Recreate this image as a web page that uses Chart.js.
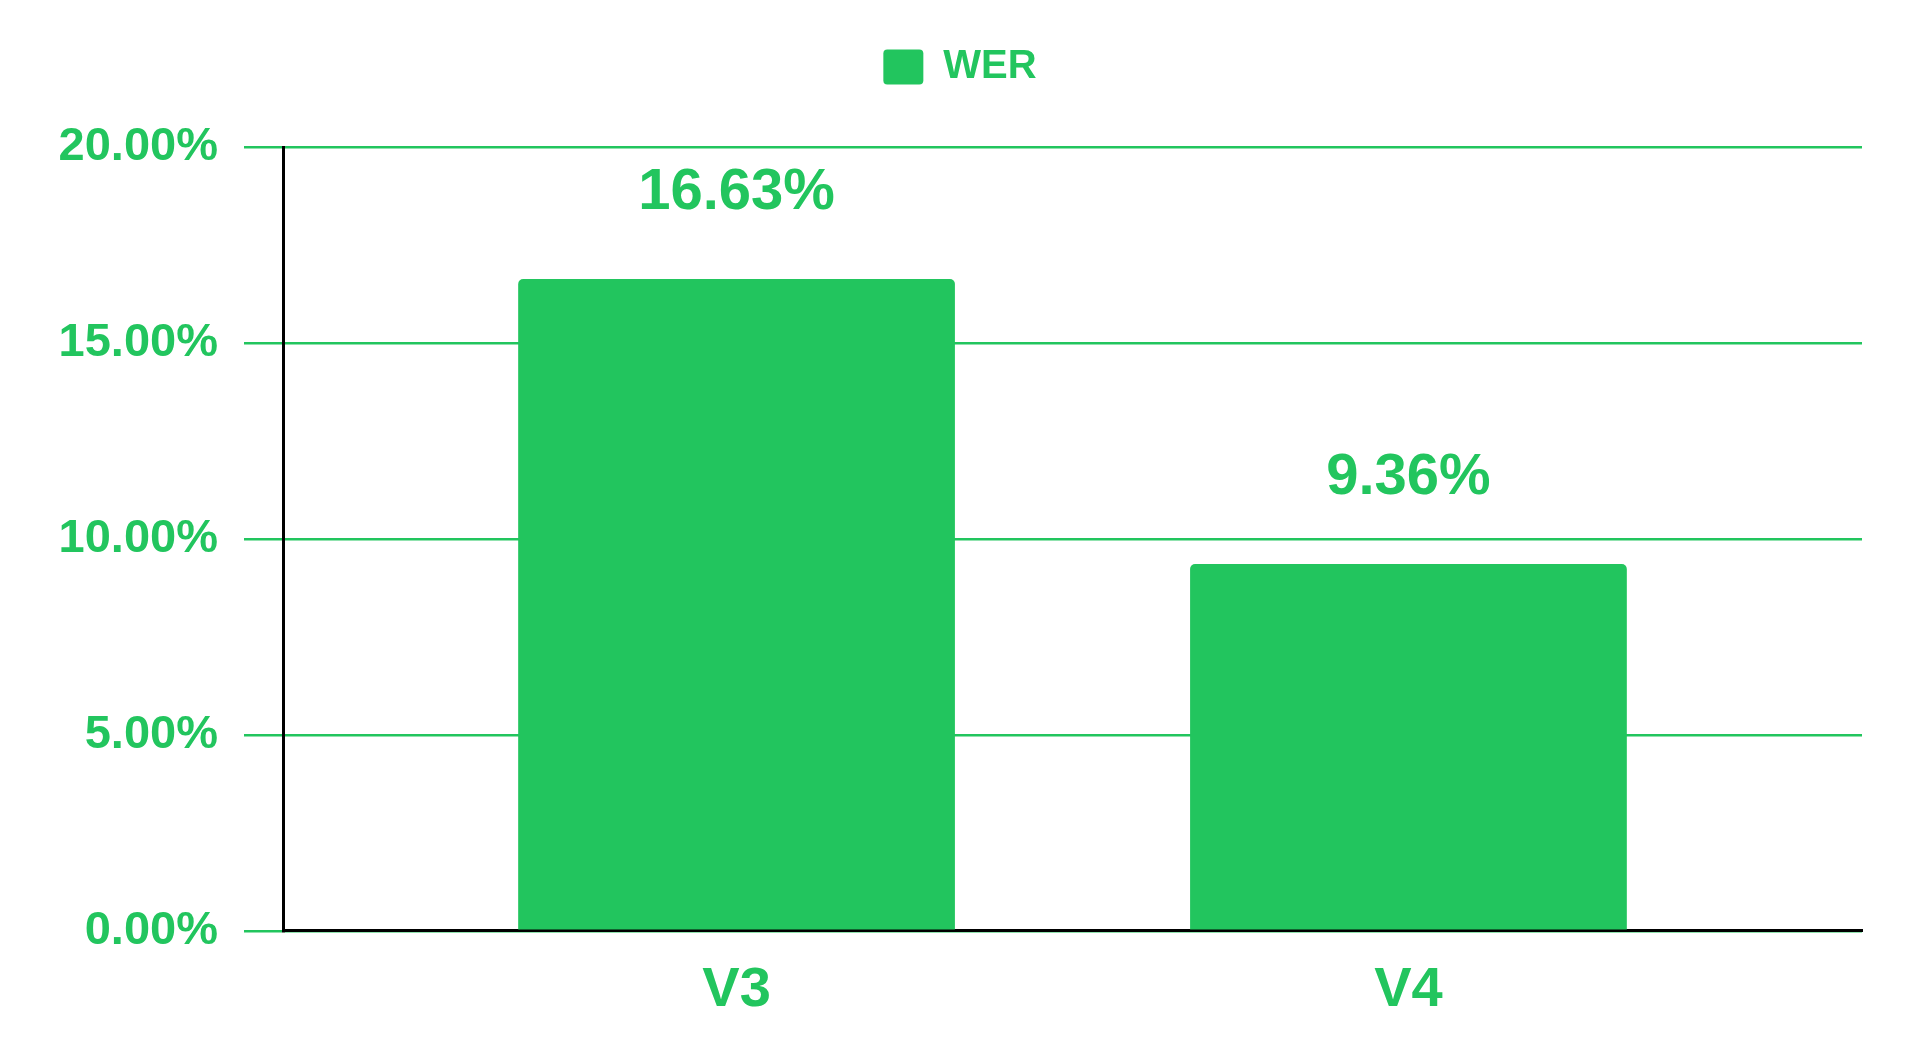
<!DOCTYPE html>
<html>
<head>
<meta charset="utf-8">
<script src="https://cdn.jsdelivr.net/npm/chart.js@4.4.1/dist/chart.umd.min.js"></script>
<style>
  html, body { margin: 0; padding: 0; background: #fff; }
  #wrap { width: 1920px; height: 1062px; }
</style>
</head>
<body>
<div id="wrap"><canvas id="myChart"></canvas></div>
<script>
const categories = ['V3', 'V4'];
const werValues = [16.63, 9.36];
const yTicks = [0, 5, 10, 15, 20];

const green = '#22c55e';
const font = '"Liberation Sans", Arial, sans-serif';

// value labels above the bars
const barValues = {
    id: 'barValues',
    afterDatasetsDraw(chart) {
        const ctx = chart.ctx;
        const meta = chart.getDatasetMeta(0);
        ctx.save();
        ctx.fillStyle = green;
        ctx.font = 'bold 58px ' + font;
        ctx.textAlign = 'center';
        ctx.textBaseline = 'alphabetic';
        meta.data.forEach((bar, i) => {
            ctx.fillText(werValues[i].toFixed(2) + '%', bar.x, bar.y - 70);
        });
        ctx.restore();
    }
};

// extra room under the legend, and centre it on the whole canvas
const legendGap = {
    id: 'legendGap',
    beforeInit(chart) {
        const fit = chart.legend.fit;
        chart.legend.fit = function () {
            fit.bind(chart.legend)();
            this.height += 50;
        };
    },
    afterLayout(chart) {
        chart.legend.left = 0;
        chart.legend.right = chart.width;
        chart.legend.width = chart.width;
    }
};

const ctx = document.getElementById('myChart').getContext('2d');

const chart = new Chart(ctx, {
    type: 'bar',
    data: {
        datasets: [{
            label: 'WER',
            backgroundColor: green,
            borderRadius: 5,
            barPercentage: 0.65,
            categoryPercentage: 1,
            data: werValues.map((v, i) => ({ x: i, y: v }))
        }]
    },
    plugins: [barValues, legendGap],
    options: {
        responsive: true,
        maintainAspectRatio: false,
        animation: false,
        layout: { padding: { top: 37, right: 58, bottom: 12, left: 0 } },
        plugins: {
            tooltip: { enabled: false },
            legend: {
                labels: {
                    color: green,
                    font: { family: font, size: 40, weight: 'bold' },
                    boxWidth: 40,
                    boxHeight: 35,
                    padding: 10,
                    useBorderRadius: true,
                    borderRadius: 4
                }
            }
        },
        scales: {
            x: {
                type: 'linear',
                offset: false,
                min: -0.675,
                max: categories.length - 1 + 0.675,
                grid: { display: false, drawTicks: false, offset: false },
                border: { display: true, color: '#000', width: 3 },
                ticks: {
                    stepSize: 1,
                    includeBounds: false,
                    padding: 26,
                    color: green,
                    font: { family: font, size: 56, weight: 'bold' },
                    callback: (v) => categories[v]
                }
            },
            y: {
                min: yTicks[0],
                max: yTicks[yTicks.length - 1],
                afterFit(scale) { scale.width = 283; },
                afterBuildTicks(scale) { scale.ticks = yTicks.map(v => ({ value: v })); },
                grid: { color: green, lineWidth: 2.5, tickLength: 39 },
                border: { display: true, color: '#000', width: 3 },
                ticks: {
                    padding: 26,
                    color: green,
                    font: { family: font, size: 47, weight: 'bold' },
                    callback: (v) => v.toFixed(2) + '%'
                }
            }
        }
    }
});
</script>
</body>
</html>
